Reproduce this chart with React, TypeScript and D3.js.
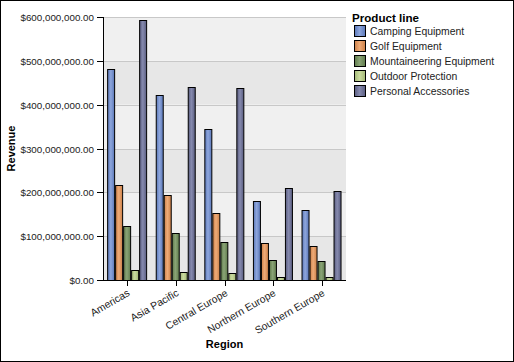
import { scaleBand, scaleLinear, format } from "d3";

const regions = ["Americas", "Asia Pacific", "Central Europe", "Northern Europe", "Southern Europe"];
const productLines = [
  "Camping Equipment",
  "Golf Equipment",
  "Mountaineering Equipment",
  "Outdoor Protection",
  "Personal Accessories",
];
// revenue in millions, per region, same order as productLines
const camping = [482, 422, 345, 180, 160];
const golf = [217, 194, 153, 84, 78];
const mountaineering = [123, 107, 87, 46, 43];
const outdoor = [23, 18, 16, 7, 7];
const personal = [593, 441, 438, 210, 203];
const yTicks = [0, 100, 200, 300, 400, 500, 600];

const series = [camping, golf, mountaineering, outdoor, personal];
const colors = [
  ["#5a77b8", "#8ea6dc"],
  ["#cc8048", "#eeab78"],
  ["#5f7a4c", "#8aa476"],
  ["#a3b876", "#cadb9f"],
  ["#5a5d80", "#868aae"],
];

const margin = { top: 17, right: 168, bottom: 82, left: 103 };
const width = 514;
const height = 362;
const innerWidth = width - margin.left - margin.right;
const innerHeight = height - margin.top - margin.bottom;

const formatMoney = (v: number) => "$" + format(",.2f")(v * 1e6);
const font = "Arial, 'Liberation Sans', sans-serif";

const App = () => {
  const xScale = scaleBand().domain(regions).range([0, innerWidth]).paddingInner(0.17).paddingOuter(0.085);
  const barScale = scaleBand()
    .domain(productLines)
    .range([0, xScale.bandwidth()]);
  const yScale = scaleLinear().domain([0, 600]).range([innerHeight, 0]);

  return (
    <svg
      width={width}
      height={height}
      style={{ position: "absolute", left: 0, top: 0, fontFamily: font }}
    >
      <defs>
        {colors.map((c, i) => (
          <linearGradient key={i} id={`g${i}`} x1="0" x2="1" y1="0" y2="0">
            <stop offset="0" stopColor={c[0]} />
            <stop offset="0.45" stopColor={c[1]} />
            <stop offset="1" stopColor={c[0]} />
          </linearGradient>
        ))}
      </defs>
      <rect x={0.5} y={0.5} width={width - 1} height={height - 1} fill="white" stroke="black" />
      <g transform={`translate(${margin.left},${margin.top})`}>
        {yTicks.slice(0, -1).map((t, i) => (
          <rect
            key={t}
            x={0}
            width={innerWidth}
            y={yScale(t + 100)}
            height={yScale(t) - yScale(t + 100)}
            fill={i % 2 === 0 ? "#e7e7e7" : "#f0f0f0"}
          />
        ))}
        {yTicks.map((t) => (
          <g key={t} transform={`translate(0,${Math.round(yScale(t)) + 0.5})`}>
            <line x1={0} x2={innerWidth} stroke="#c8c8c8" />
            <line x1={-6} x2={0} stroke="black" />
            <text x={-9} dy="0.35em" textAnchor="end" fontSize={9.8} fill="#222">
              {formatMoney(t)}
            </text>
          </g>
        ))}
        {regions.map((r, ri) => (
          <g key={r} transform={`translate(${xScale(r)},0)`}>
            {series.map((s, si) => (
              <rect
                key={si}
                x={Math.round(barScale(productLines[si])!) + 0.5}
                y={Math.round(yScale(s[ri])) + 0.5}
                width={Math.round(barScale.bandwidth()) - 1}
                height={innerHeight - Math.round(yScale(s[ri]))}
                fill={`url(#g${si})`}
                stroke="black"
              />
            ))}
          </g>
        ))}
        <line x1={0.5} x2={0.5} y1={0} y2={innerHeight} stroke="black" />
        <line x1={0} x2={innerWidth} y1={innerHeight + 0.5} y2={innerHeight + 0.5} stroke="black" />
        {regions.map((r) => {
          const cx = Math.round(xScale(r)! + xScale.bandwidth() / 2) + 0.5;
          return (
            <g key={r} transform={`translate(${cx},${innerHeight})`}>
              <line y1={0} y2={6} stroke="black" />
              <text
                transform="translate(3,15) rotate(-30)"
                textAnchor="end"
                fontSize={10.4}
                fill="#222"
              >
                {r}
              </text>
            </g>
          );
        })}
        <text
          x={innerWidth / 2}
          y={innerHeight + 68}
          textAnchor="middle"
          fontSize={11}
          fontWeight="bold"
        >
          Region
        </text>
      </g>
      <text
        transform={`translate(15,${margin.top + innerHeight / 2}) rotate(-90)`}
        textAnchor="middle"
        fontSize={11}
        fontWeight="bold"
      >
        Revenue
      </text>
      <g transform="translate(352,0)">
        <text x={0} y={22} fontSize={11.6} fontWeight="bold">
          Product line
        </text>
        {productLines.map((p, i) => (
          <g key={p} transform={`translate(0,${25 + i * 15})`}>
            <rect x={2.5} y={0.5} width={11} height={11} fill={`url(#g${i})`} stroke="black" />
            <text x={18} y={10} fontSize={10.4} fill="#222">
              {p}
            </text>
          </g>
        ))}
      </g>
    </svg>
  );
};

export default App;
